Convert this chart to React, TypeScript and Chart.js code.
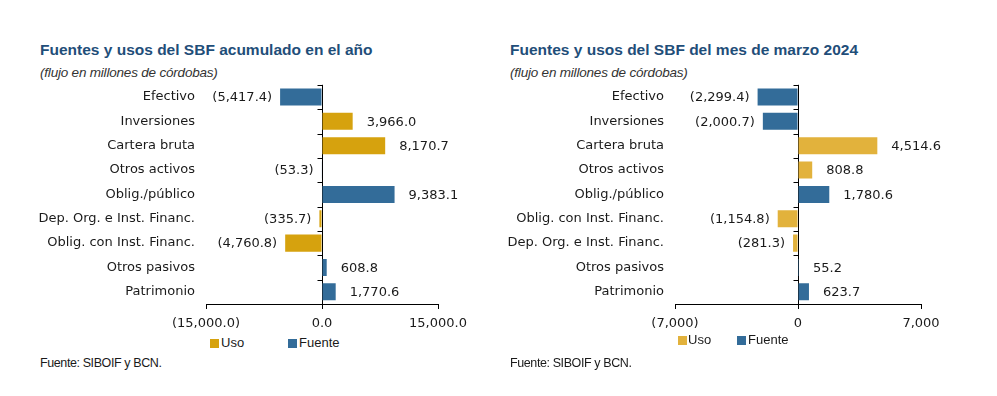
import React, { useEffect, useRef } from 'react';
import { Chart, registerables } from 'chart.js';

Chart.register(...registerables);

// ---------- Data ----------
const leftCategories = [
  'Efectivo',
  'Inversiones',
  'Cartera bruta',
  'Otros activos',
  'Oblig./público',
  'Dep. Org. e Inst. Financ.',
  'Oblig. con Inst. Financ.',
  'Otros pasivos',
  'Patrimonio',
];
const leftUso = [null, 3966.0, 8170.7, null, null, -335.7, -4760.8, null, null];
const leftFuente = [-5417.4, null, null, -53.3, 9383.1, null, null, 608.8, 1770.6];
const leftTicks = [-15000, 0, 15000];

const rightCategories = [
  'Efectivo',
  'Inversiones',
  'Cartera bruta',
  'Otros activos',
  'Oblig./público',
  'Oblig. con Inst. Financ.',
  'Dep. Org. e Inst. Financ.',
  'Otros pasivos',
  'Patrimonio',
];
const rightUso = [null, null, 4514.6, 808.8, null, -1154.8, -281.3, null, null];
const rightFuente = [-2299.4, -2000.7, null, null, 1780.6, null, null, 55.2, 623.7];
const rightTicks = [-7000, 0, 7000];

const leftTitle = 'Fuentes y usos del SBF acumulado en el año';
const rightTitle = 'Fuentes y usos del SBF del mes de marzo 2024';
const subtitle = '(flujo en millones de córdobas)';
const sourceText = 'Fuente: SIBOIF y BCN.';
const legendLabels = ['Uso', 'Fuente'];

// ---------- Helpers ----------
const fmt = (v: number, d: number) => {
  const s = Math.abs(v).toLocaleString('en-US', {
    minimumFractionDigits: d,
    maximumFractionDigits: d,
  });
  return v < 0 ? `(${s})` : s;
};

const BLUE = '#336C99';
const LABEL_FONT = '"DejaVu Sans", Verdana, sans-serif';

const valueLabelPlugin = {
  id: 'valueLabels',
  afterDatasetsDraw(chart: any) {
    const ctx = chart.ctx;
    ctx.save();
    ctx.font = `13px ${LABEL_FONT}`;
    ctx.fillStyle = '#1a1a1a';
    ctx.textBaseline = 'middle';
    chart.data.datasets.forEach((ds: any, di: number) => {
      const meta = chart.getDatasetMeta(di);
      meta.data.forEach((el: any, i: number) => {
        const v = ds.data[i];
        if (v === null || v === undefined) return;
        const d = chart.options.plugins.valueLabels.decimals;
        const txt = fmt(v, d);
        if (v >= 0) {
          ctx.textAlign = 'left';
          ctx.fillText(txt, Math.max(el.x, el.base) + 14, el.y + 1);
        } else {
          ctx.textAlign = 'right';
          ctx.fillText(txt, Math.min(el.x, el.base) - 8, el.y + 1);
        }
      });
    });
    ctx.restore();
  },
};

const zeroAxisTicksPlugin = {
  id: 'zeroAxisTicks',
  afterDraw(chart: any) {
    const { ctx, chartArea, scales } = chart;
    const x0 = Math.round(scales.x.getPixelForValue(0)) + 0.5;
    const n = chart.data.labels.length;
    const h = (chartArea.bottom - chartArea.top) / n;
    ctx.save();
    ctx.strokeStyle = '#000';
    ctx.lineWidth = 1;
    ctx.beginPath();
    for (let i = 0; i < n; i++) {
      const y = Math.round(chartArea.top + i * h) + 0.5;
      ctx.moveTo(x0 - 5, y);
      ctx.lineTo(x0, y);
    }
    ctx.stroke();
    ctx.restore();
  },
};

type PanelProps = {
  left: number;
  title: string;
  categories: string[];
  uso: (number | null)[];
  fuente: (number | null)[];
  ticks: number[];
  valueDecimals: number;
  tickDecimals: number;
  usoColor: string;
  yWidth: number;
  padRight: number;
  legendTop: number;
  legendPos: number[];
};

const CANVAS_TOP = 66;
const CANVAS_H = 269;

function Panel(p: PanelProps) {
  const ref = useRef<HTMLCanvasElement | null>(null);

  useEffect(() => {
    if (!ref.current) return;
    const chart = new Chart(ref.current, {
      type: 'bar',
      data: {
        labels: p.categories,
        datasets: [
          {
            label: legendLabels[0],
            data: p.uso as any,
            backgroundColor: p.usoColor,
            borderWidth: 0,
          },
          {
            label: legendLabels[1],
            data: p.fuente as any,
            backgroundColor: BLUE,
            borderWidth: 0,
          },
        ],
      },
      options: {
        indexAxis: 'y',
        responsive: false,
        animation: false,
        devicePixelRatio: 1,
        skipNull: true,
        datasets: {
          bar: { categoryPercentage: 0.7, barPercentage: 1 },
        },
        layout: { padding: { top: 0, right: p.padRight, left: 0, bottom: 0 } },
        plugins: {
          legend: { display: false },
          tooltip: { enabled: false },
          valueLabels: { decimals: p.valueDecimals },
        } as any,
        scales: {
          x: {
            min: p.ticks[0],
            max: p.ticks[p.ticks.length - 1],
            afterBuildTicks: (s: any) => {
              s.ticks = p.ticks.map((v) => ({ value: v }));
            },
            afterFit: (s: any) => {
              s.height = 31;
            },
            border: { display: true, color: '#000', width: 1 },
            grid: {
              drawOnChartArea: true,
              color: (c: any) => (c.tick && c.tick.value === 0 ? '#000' : 'rgba(0,0,0,0)'),
              tickColor: '#000',
              tickLength: 5,
              lineWidth: 1,
            },
            ticks: {
              padding: 7,
              maxRotation: 0,
              autoSkip: false,
              color: '#1a1a1a',
              font: { family: LABEL_FONT, size: 13 },
              callback: (v: any) => fmt(Number(v), p.tickDecimals),
            },
          },
          y: {
            afterFit: (s: any) => {
              s.width = p.yWidth;
            },
            border: { display: false },
            grid: { display: false, drawTicks: false },
            ticks: {
              padding: 11,
              color: '#1a1a1a',
              font: { family: LABEL_FONT, size: 13 },
            },
          },
        },
      },
      plugins: [valueLabelPlugin, zeroAxisTicksPlugin],
    });
    return () => chart.destroy();
  }, []);

  const sq = (x: number, color: string) => (
    <div
      style={{
        position: 'absolute',
        left: x,
        top: p.legendTop - 4,
        width: 9,
        height: 9,
        background: color,
      }}
    />
  );
  const lt = (x: number, text: string) => (
    <div
      style={{
        position: 'absolute',
        left: x,
        top: p.legendTop - 8,
        font: '13px "Liberation Sans", Arial, sans-serif',
        lineHeight: '16px',
        color: '#1a1a1a',
        whiteSpace: 'nowrap',
      }}
    >
      {text}
    </div>
  );

  return (
    <div style={{ position: 'absolute', left: p.left, top: 0, width: 460, height: 396 }}>
      <div
        style={{
          position: 'absolute',
          left: 10,
          top: 41,
          font: 'bold 15.5px "Liberation Sans", Arial, sans-serif',
          lineHeight: '18px',
          color: '#1F4E79',
          whiteSpace: 'nowrap',
        }}
      >
        {p.title}
      </div>
      <div
        style={{
          position: 'absolute',
          left: 10,
          top: 65,
          font: 'italic 13.5px "Liberation Sans", Arial, sans-serif',
          lineHeight: '16px',
          color: '#333',
          letterSpacing: '-0.2px',
          whiteSpace: 'nowrap',
        }}
      >
        {subtitle}
      </div>
      <canvas
        ref={ref}
        width={460}
        height={CANVAS_H}
        style={{ position: 'absolute', left: 0, top: CANVAS_TOP, width: 460, height: CANVAS_H }}
      />
      {sq(p.legendPos[0], p.usoColor)}
      {lt(p.legendPos[1], legendLabels[0])}
      {sq(p.legendPos[2], BLUE)}
      {lt(p.legendPos[3], legendLabels[1])}
      <div
        style={{
          position: 'absolute',
          left: 10,
          top: 355,
          font: '12.5px "Liberation Sans", Arial, sans-serif',
          lineHeight: '16px',
          letterSpacing: '-0.4px',
          color: '#1a1a1a',
          whiteSpace: 'nowrap',
        }}
      >
        {sourceText}
      </div>
    </div>
  );
}

export default function App() {
  return (
    <div
      style={{
        position: 'absolute',
        left: 0,
        top: 0,
        width: 997,
        height: 396,
        background: '#fff',
        overflow: 'hidden',
      }}
    >
      <Panel
        left={30}
        title={leftTitle}
        categories={leftCategories}
        uso={leftUso}
        fuente={leftFuente}
        ticks={leftTicks}
        valueDecimals={1}
        tickDecimals={1}
        usoColor="#D6A20E"
        yWidth={176}
        padRight={52}
        legendTop={343}
        legendPos={[180, 191, 258, 269]}
      />
      <Panel
        left={500}
        title={rightTitle}
        categories={rightCategories}
        uso={rightUso}
        fuente={rightFuente}
        ticks={rightTicks}
        valueDecimals={1}
        tickDecimals={0}
        usoColor="#E2B23C"
        yWidth={175}
        padRight={39}
        legendTop={340}
        legendPos={[178, 188, 237, 248]}
      />
    </div>
  );
}
